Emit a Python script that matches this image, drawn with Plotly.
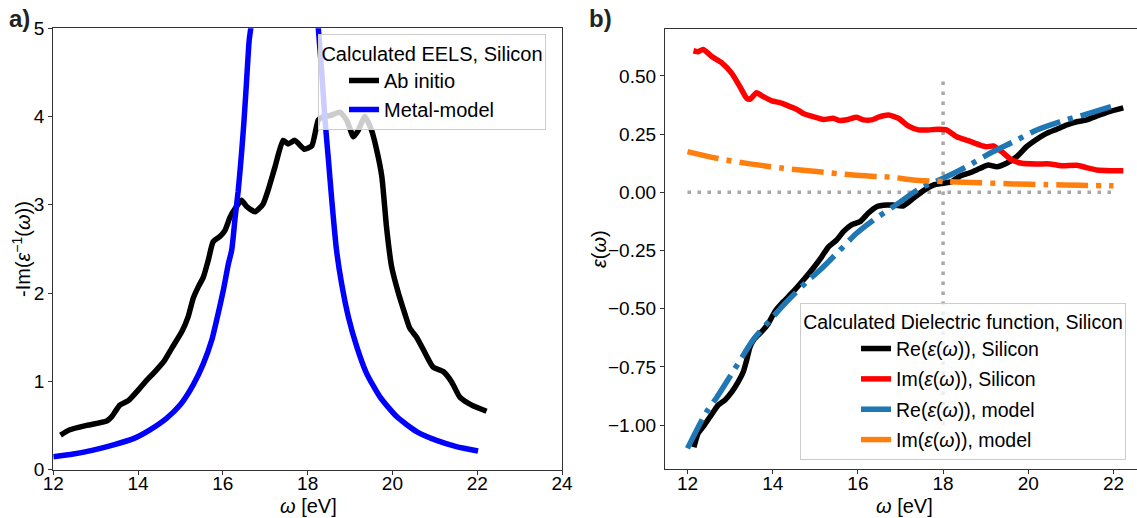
import plotly.graph_objects as go

W, H = 1137, 518

# ---------------- panel a) data ----------------
abinitio_x = [12.17, 12.39, 12.79, 13.26, 13.38, 13.57, 13.77, 14.04, 14.20, 14.40, 14.63, 14.79,
              15.03, 15.18, 15.30, 15.42, 15.54, 15.66, 15.77, 15.93, 16.05, 16.17, 16.32, 16.44,
              16.56, 16.76, 16.95, 17.07, 17.23, 17.42, 17.54, 17.70, 17.92, 18.10, 18.25, 18.37,
              18.53, 18.76, 18.92, 19.08, 19.19, 19.35, 19.51, 19.62, 19.75, 19.86, 19.98, 20.14,
              20.29, 20.41, 20.57, 20.77, 20.96, 21.20, 21.40, 21.59, 21.87, 22.22]
abinitio_y = [0.39, 0.45, 0.50, 0.55, 0.60, 0.73, 0.78, 0.92, 1.01, 1.11, 1.24, 1.37,
              1.56, 1.73, 1.94, 2.07, 2.18, 2.38, 2.58, 2.64, 2.71, 2.86, 2.98, 3.05,
              2.98, 2.92, 3.01, 3.17, 3.43, 3.73, 3.69, 3.73, 3.63, 3.67, 3.96, 4.00,
              4.01, 4.05, 3.96, 3.77, 3.84, 4.00, 3.84, 3.64, 3.32, 2.75, 2.30, 2.00,
              1.77, 1.60, 1.50, 1.32, 1.16, 1.11, 0.99, 0.82, 0.73, 0.66]

metal_x = [12.00, 12.47, 12.94, 13.42, 13.89, 14.28, 14.67, 14.99, 15.30, 15.54, 15.74, 15.89,
           16.01, 16.13, 16.21, 16.29, 16.36, 16.44, 16.50, 16.56, 16.62, 16.66, 16.68, None,
           18.23, 18.25, 18.33, 18.41, 18.49, 18.57, 18.68, 18.80, 18.96, 19.16, 19.39, 19.71,
           20.10, 20.57, 21.04, 21.51, 22.02]
metal_y = [0.145, 0.175, 0.22, 0.28, 0.35, 0.45, 0.58, 0.73, 0.96, 1.20, 1.47, 1.77,
           2.03, 2.33, 2.49, 2.86, 3.15, 3.58, 3.96, 4.41, 4.86, 5.01, 5.20, None,
           5.20, 5.01, 4.52, 3.96, 3.51, 3.05, 2.49, 2.11, 1.73, 1.39, 1.09, 0.82,
           0.60, 0.43, 0.33, 0.26, 0.21]

# ---------------- panel b) data ----------------
re_si_x = [12.15, 12.25, 12.37, 12.53, 12.72, 12.88, 13.04, 13.19, 13.31, 13.39, 13.47, 13.58,
           13.74, 13.90, 14.05, 14.25, 14.48, 14.72, 14.95, 15.15, 15.31, 15.50, 15.66, 15.85,
           16.05, 16.24, 16.44, 16.68, 16.83, 17.07, 17.30, 17.54, 17.77, 18.00, 18.20, 18.40,
           18.63, 18.87, 19.06, 19.26, 19.49, 19.73, 19.96, 20.20, 20.43, 20.67, 20.90, 21.14,
           21.37, 21.61, 21.88, 22.23]
re_si_y = [-1.095, -1.035, -1.007, -0.964, -0.914, -0.892, -0.857, -0.814, -0.771, -0.720, -0.663, -0.627,
           -0.599, -0.563, -0.513, -0.470, -0.427, -0.377, -0.326, -0.277, -0.234, -0.205, -0.169, -0.140,
           -0.126, -0.090, -0.062, -0.055, -0.055, -0.058, -0.026, 0.007, 0.031, 0.039, 0.046, 0.070,
           0.084, 0.103, 0.117, 0.110, 0.125, 0.153, 0.196, 0.228, 0.253, 0.271, 0.289, 0.303,
           0.311, 0.328, 0.346, 0.363]

im_si_x = [12.14, 12.25, 12.37, 12.57, 12.80, 13.04, 13.23, 13.39, 13.47, 13.62, 13.78, 13.98,
           14.17, 14.41, 14.56, 14.72, 14.95, 15.19, 15.42, 15.58, 15.77, 15.97, 16.13, 16.32,
           16.50, 16.72, 16.95, 17.18, 17.42, 17.65, 17.89, 18.08, 18.32, 18.59, 18.87, 19.02,
           19.18, 19.38, 19.61, 19.85, 20.20, 20.51, 20.78, 21.14, 21.37, 21.61, 21.92, 22.23]
im_si_y = [0.608, 0.604, 0.614, 0.583, 0.557, 0.511, 0.454, 0.404, 0.400, 0.428, 0.411, 0.393,
           0.385, 0.368, 0.357, 0.339, 0.325, 0.313, 0.318, 0.308, 0.313, 0.322, 0.311, 0.311,
           0.324, 0.332, 0.318, 0.285, 0.268, 0.268, 0.271, 0.268, 0.239, 0.222, 0.203, 0.196,
           0.199, 0.174, 0.139, 0.125, 0.122, 0.122, 0.114, 0.116, 0.106, 0.096, 0.093, 0.093]

re_model_x = [12.00, 12.45, 12.69, 13.19, 13.54, 13.94, 14.33, 14.84, 15.11, 15.58, 15.97, 16.36,
              16.83, 17.46, 18.00, 18.55, 19.10, 19.65, 20.20, 20.74, 21.29, 22.00]
re_model_y = [-1.100, -0.942, -0.880, -0.735, -0.634, -0.549, -0.470, -0.377, -0.334, -0.248, -0.176, -0.120,
              -0.062, 0.017, 0.060, 0.110, 0.168, 0.217, 0.268, 0.303, 0.332, 0.371]

im_model_x = [12.00, 12.69, 13.47, 14.25, 15.03, 15.89, 16.83, 17.30, 18.08, 18.87, 19.65, 20.43,
              21.21, 22.00]
im_model_y = [0.175, 0.146, 0.122, 0.103, 0.089, 0.074, 0.064, 0.053, 0.046, 0.041, 0.036, 0.033,
              0.030, 0.028]

hline_x = [12, 22]
hline_y = [0, 0]
vline_x = [18, 18]
vline_y = [-1.0, 0.48]

FONT = "Liberation Sans, Arial, sans-serif"
AXC = "#333333"
DASHDOT = "32px,8px,5px,8px"
DOTTED = "3.5px,6.5px"
LEG_FS = 19.5
TICK_FS = 19
TITLE_FS = 20

fig = go.Figure()

# panel a
fig.add_trace(go.Scatter(x=abinitio_x, y=abinitio_y, mode="lines", name="Ab initio",
                         line=dict(color="black", width=5.5, shape="spline", smoothing=0.5),
                         xaxis="x", yaxis="y", legend="legend", legendgroup="a1"))
fig.add_trace(go.Scatter(x=metal_x, y=metal_y, mode="lines", name="Metal-model",
                         line=dict(color="#0000ff", width=5.5, shape="spline", smoothing=0.6),
                         xaxis="x", yaxis="y", legend="legend", legendgroup="a2"))

# panel b guides
fig.add_trace(go.Scatter(x=hline_x, y=hline_y, mode="lines", showlegend=False,
                         line=dict(color="#a8a8a8", width=3.5, dash=DOTTED),
                         xaxis="x2", yaxis="y2"))
fig.add_trace(go.Scatter(x=vline_x, y=vline_y, mode="lines", showlegend=False,
                         line=dict(color="#a8a8a8", width=3.5, dash=DOTTED),
                         xaxis="x2", yaxis="y2"))

fig.add_trace(go.Scatter(x=re_si_x, y=re_si_y, mode="lines",
                         name="Re(<i>ε</i>(<i>ω</i>)), Silicon",
                         line=dict(color="black", width=5.5, shape="spline", smoothing=0.5),
                         xaxis="x2", yaxis="y2", legend="legend2", legendgroup="b1"))
fig.add_trace(go.Scatter(x=im_si_x, y=im_si_y, mode="lines",
                         name="Im(<i>ε</i>(<i>ω</i>)), Silicon",
                         line=dict(color="#ff0000", width=5.5, shape="spline", smoothing=0.5),
                         xaxis="x2", yaxis="y2", legend="legend2", legendgroup="b2"))
fig.add_trace(go.Scatter(x=re_model_x, y=re_model_y, mode="lines",
                         name="Re(<i>ε</i>(<i>ω</i>)), model",
                         line=dict(color="#1f77b4", width=5.5, dash=DASHDOT, shape="spline", smoothing=0.8),
                         xaxis="x2", yaxis="y2", legend="legend2", legendgroup="b3"))
fig.add_trace(go.Scatter(x=im_model_x, y=im_model_y, mode="lines",
                         name="Im(<i>ε</i>(<i>ω</i>)), model",
                         line=dict(color="#ff7f0e", width=5.5, dash=DASHDOT, shape="spline", smoothing=0.8),
                         xaxis="x2", yaxis="y2", legend="legend2", legendgroup="b4"))

axis_common = dict(showgrid=False, zeroline=False, showline=True, linecolor=AXC, linewidth=1.3,
                   ticks="outside", ticklen=4, tickwidth=1.2, tickcolor=AXC, automargin=False,
                   tickfont=dict(family=FONT, size=TICK_FS, color="black"))

fig.update_layout(
    width=W, height=H,
    margin=dict(l=0, r=0, t=0, b=0, pad=0),
    paper_bgcolor="white", plot_bgcolor="white",
    font=dict(family=FONT, size=TICK_FS, color="black"),
    xaxis=dict(domain=[53.3 / W, 562 / W], range=[12, 24], tickvals=[12, 14, 16, 18, 20, 22, 24],
               mirror=True, anchor="y", ticklabelstandoff=-7, **axis_common),
    yaxis=dict(domain=[1 - 469.5 / H, 1 - 28.3 / H], range=[0, 5], tickvals=[0, 1, 2, 3, 4, 5],
               mirror=True, anchor="x", **axis_common),
    xaxis2=dict(domain=[665 / W, 1.0], range=[11.472, 22.552], tickvals=[12, 14, 16, 18, 20, 22],
                mirror=True, anchor="y2", ticklabelstandoff=-7, **axis_common),
    yaxis2=dict(domain=[1 - 468.7 / H, 1 - 29 / H], range=[-1.1873, 0.7015],
                tickvals=[-1.0, -0.75, -0.5, -0.25, 0.0, 0.25, 0.5], tickformat=".2f",
                mirror=False, anchor="x2", **axis_common),
    legend=dict(x=318 / W, y=1 - 34 / H, xanchor="left", yanchor="top",
                bgcolor="rgba(255,255,255,0.8)", bordercolor="#cccccc", borderwidth=1,
                font=dict(family=FONT, size=20, color="black"),
                title=dict(text="Calculated EELS, Silicon", side="top center",
                           font=dict(family=FONT, size=20, color="black")),
                tracegroupgap=0, indentation=25),
    legend2=dict(x=800 / W, y=1 - 303 / H, xanchor="left", yanchor="top",
                 bgcolor="rgba(255,255,255,0.8)", bordercolor="#cccccc", borderwidth=1,
                 font=dict(family=FONT, size=LEG_FS, color="black"),
                 title=dict(text="Calculated Dielectric function, Silicon", side="top center",
                            font=dict(family=FONT, size=LEG_FS, color="black")),
                 tracegroupgap=2, indentation=55),
    showlegend=True,
)

ann = [
    dict(text="<b>a)</b>", x=7 / W, y=1 - 18 / H, xanchor="left", yanchor="middle",
         font=dict(family=FONT, size=24, color="#222222")),
    dict(text="<b>b)</b>", x=587 / W, y=1 - 18 / H, xanchor="left", yanchor="middle",
         font=dict(family=FONT, size=24, color="#222222")),
    dict(text="<i>ω</i> [eV]", x=308 / W, y=1 - 505.5 / H, xanchor="center", yanchor="middle",
         font=dict(family=FONT, size=TITLE_FS, color="black")),
    dict(text="<i>ω</i> [eV]", x=904 / W, y=1 - 505.5 / H, xanchor="center", yanchor="middle",
         font=dict(family=FONT, size=TITLE_FS, color="black")),
    dict(text="-Im(<i>ε</i><sup>−1</sup>(<i>ω</i>))", x=21 / W, y=1 - 249 / H, xanchor="center",
         yanchor="middle", textangle=-90, font=dict(family=FONT, size=TITLE_FS, color="black")),
    dict(text="<i>ε</i>(<i>ω</i>)", x=599 / W, y=1 - 249 / H, xanchor="center",
         yanchor="middle", textangle=-90, font=dict(family=FONT, size=TITLE_FS, color="black")),
]
for a in ann:
    a.update(xref="paper", yref="paper", showarrow=False)
fig.update_layout(annotations=ann)

fig.write_html("out.html")
